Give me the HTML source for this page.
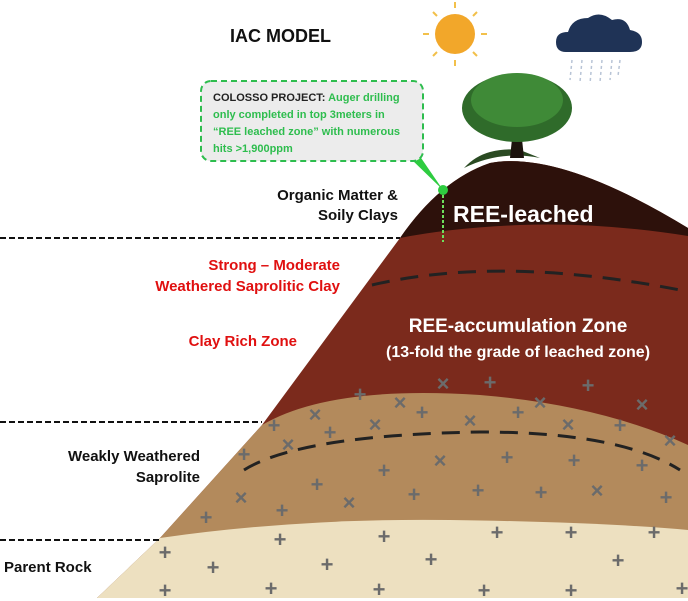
<!DOCTYPE html>
<html><head><meta charset="utf-8"><style>
html,body{margin:0;padding:0;background:#fff;width:688px;height:601px;overflow:hidden}
svg{display:block}
text{font-family:"Liberation Sans",Arial,sans-serif;font-weight:bold}
</style></head><body>
<svg width="688" height="601" viewBox="0 0 688 601" xmlns="http://www.w3.org/2000/svg">
<path d="M97,598 L160,538 L262,425 L400,238 Q440,180 490,163 Q560,150 688,228 L688,598 Z" fill="#7b2a1c"/>
<path d="M400,238 Q440,180 490,163 Q560,150 688,228 L688,236 Q600,222 520,225 Q450,228 400,238 Z" fill="#2d110b"/>
<path d="M262,425 Q330,385 480,395 Q600,405 688,445 L688,598 L97,598 L160,538 Z" fill="#b38a5c"/>
<path d="M160,538 Q300,518 450,520 Q600,522 688,530 L688,598 L97,598 Z" fill="#ede0c0"/>
<path d="M372,285 Q500,255 680,290" fill="none" stroke="#222" stroke-width="3" stroke-dasharray="18,11"/>
<path d="M244,470 Q300,435 480,432 Q620,432 680,470" fill="none" stroke="#222" stroke-width="3" stroke-dasharray="18,11"/>
<line x1="0" y1="238" x2="400" y2="238" stroke="#111" stroke-width="2" stroke-dasharray="6,3"/>
<line x1="0" y1="422" x2="262" y2="422" stroke="#111" stroke-width="2" stroke-dasharray="6,3"/>
<line x1="0" y1="540" x2="160" y2="540" stroke="#111" stroke-width="2" stroke-dasharray="6,3"/>
<g fill="#6b6b6b" font-size="22" text-anchor="middle" style="font-family:'DejaVu Sans',sans-serif;font-weight:normal">
<text x="360" y="402">+</text><text x="400" y="410">×</text><text x="443" y="391">×</text><text x="490" y="390">+</text><text x="540" y="410">×</text><text x="588" y="393">+</text><text x="642" y="412">×</text>
<text x="315" y="422">×</text><text x="422" y="420">+</text><text x="470" y="428">×</text><text x="518" y="420">+</text><text x="568" y="432">×</text><text x="620" y="433">+</text>
<text x="274" y="433">+</text><text x="330" y="440">+</text><text x="375" y="432">×</text><text x="670" y="448">×</text><text x="288" y="452">×</text>
<text x="244" y="462">+</text><text x="440" y="468">×</text><text x="507" y="465">+</text><text x="574" y="468">+</text><text x="642" y="473">+</text><text x="384" y="478">+</text>
<text x="317" y="492">+</text><text x="241" y="505">×</text><text x="349" y="510">×</text><text x="414" y="502">+</text><text x="478" y="498">+</text><text x="541" y="500">+</text><text x="597" y="498">×</text><text x="666" y="505">+</text>
<text x="282" y="518">+</text><text x="206" y="525">+</text>
<text x="165" y="560">+</text><text x="280" y="547">+</text><text x="384" y="544">+</text><text x="497" y="540">+</text><text x="571" y="540">+</text><text x="654" y="540">+</text>
<text x="213" y="575">+</text><text x="327" y="572">+</text><text x="431" y="567">+</text><text x="618" y="568">+</text>
<text x="165" y="598">+</text><text x="271" y="596">+</text><text x="379" y="597">+</text><text x="484" y="598">+</text><text x="571" y="598">+</text><text x="682" y="596">+</text>
</g>
<g stroke="#f2c04a" stroke-width="2">
<line x1="455" y1="2" x2="455" y2="8"/><line x1="455" y1="60" x2="455" y2="66"/><line x1="423" y1="34" x2="429" y2="34"/><line x1="481" y1="34" x2="487" y2="34"/>
<line x1="433" y1="12" x2="437" y2="16"/><line x1="473" y1="52" x2="477" y2="56"/><line x1="477" y1="12" x2="473" y2="16"/><line x1="437" y1="52" x2="433" y2="56"/>
</g>
<circle cx="455" cy="34" r="20" fill="#f2a72a"/>
<path d="M566,52 Q556,52 556,42 Q556,32 568,32 Q572,18 588,18 Q600,10 612,20 Q626,16 630,30 Q642,32 642,42 Q642,52 630,52 Z" fill="#1f3356"/>
<g stroke="#b8c4d6" stroke-width="1.5" stroke-dasharray="3,3"><line x1="572" y1="60" x2="570" y2="80"/><line x1="582" y1="60" x2="580" y2="82"/><line x1="592" y1="60" x2="590" y2="84"/><line x1="602" y1="60" x2="600" y2="82"/><line x1="612" y1="60" x2="610" y2="80"/><line x1="620" y1="60" x2="618" y2="76"/></g>
<path d="M464,168 Q500,150 540,158 L520,150 Q505,148 490,152 Q475,156 464,168 Z" fill="#2a4a22"/>
<path d="M510,158 L514,120 L520,120 L524,158 Z" fill="#1c130d"/>
<ellipse cx="517" cy="108" rx="55" ry="34" fill="#2f6b2a"/>
<ellipse cx="517" cy="100" rx="46" ry="27" fill="#3f8a37"/>
<path d="M410,158 L443,190 L417,152 Z" fill="#2ecc40"/>
<rect x="201" y="81" width="222" height="80" rx="10" fill="#ececec" stroke="#2ebd4e" stroke-width="2" stroke-dasharray="6,4"/>
<g font-size="11" fill="#2ebd4e">
<text x="213" y="101"><tspan fill="#222">COLOSSO PROJECT:</tspan> Auger drilling</text>
<text x="213" y="118">only completed in top 3meters in</text>
<text x="213" y="135">“REE leached zone” with numerous</text>
<text x="213" y="152">hits &gt;1,900ppm</text>
</g>
<circle cx="443" cy="190" r="5" fill="#2ecc40"/>
<line x1="443" y1="195" x2="443" y2="242" stroke="#6ee05c" stroke-width="2" stroke-dasharray="3,2"/>
<text x="230" y="42" font-size="18" fill="#111">IAC MODEL</text>
<text x="398" y="200" font-size="15" fill="#111" text-anchor="end">Organic Matter &amp;</text>
<text x="398" y="220" font-size="15" fill="#111" text-anchor="end">Soily Clays</text>
<text x="453" y="222" font-size="23" fill="#fff">REE-leached</text>
<text x="340" y="270" font-size="15" fill="#e01010" text-anchor="end">Strong – Moderate</text>
<text x="340" y="291" font-size="15" fill="#e01010" text-anchor="end">Weathered Saprolitic Clay</text>
<text x="297" y="346" font-size="15" fill="#e01010" text-anchor="end">Clay Rich Zone</text>
<text x="518" y="332" font-size="19" fill="#fff" text-anchor="middle">REE-accumulation Zone</text>
<text x="518" y="357" font-size="16" fill="#fff" text-anchor="middle">(13-fold the grade of leached zone)</text>
<text x="200" y="461" font-size="15" fill="#111" text-anchor="end">Weakly Weathered</text>
<text x="200" y="482" font-size="15" fill="#111" text-anchor="end">Saprolite</text>
<text x="4" y="572" font-size="15" fill="#111">Parent Rock</text>
</svg>
</body></html>
